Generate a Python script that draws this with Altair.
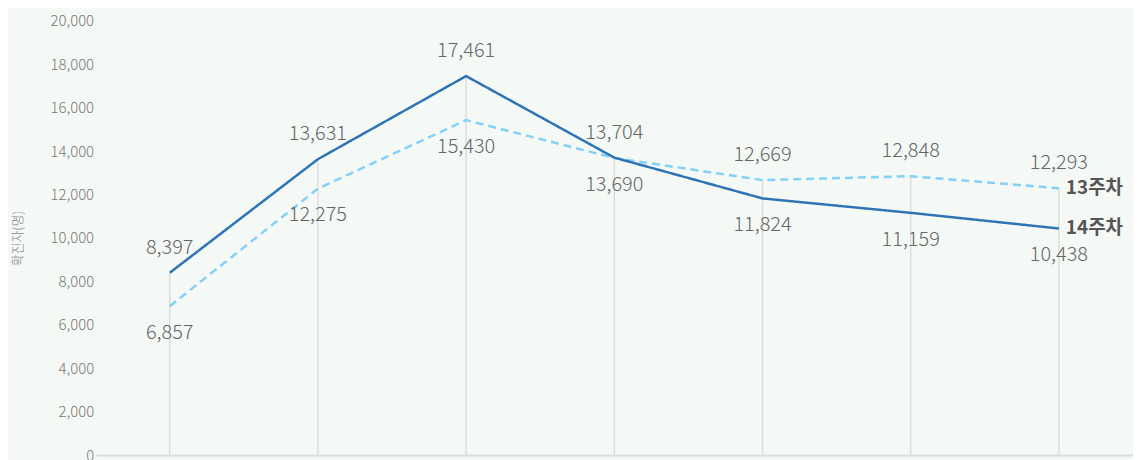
import altair as alt
import pandas as pd

days = ["월", "화", "수", "목", "금", "토", "일"]
series_names = ["13주차", "14주차"]
week13 = [6857, 12275, 15430, 13690, 12669, 12848, 12293]
week14 = [8397, 13631, 17461, 13704, 11824, 11159, 10438]
y_ticks = list(range(0, 20001, 2000))

rows = []
for i, d in enumerate(days):
    for name, vals, other in (("13주차", week13, week14), ("14주차", week14, week13)):
        rows.append({
            "day": d,
            "series": name,
            "value": vals[i],
            "pos": "above" if vals[i] >= other[i] else "below",
            "last": i == len(days) - 1,
        })
df = pd.DataFrame(rows)

FONT = "Noto Sans CJK KR"

x_enc = alt.X(
    "day:O",
    sort=days,
    scale=alt.Scale(type="point", padding=0.5),
    axis=alt.Axis(domain=True, domainColor="#dcdedc", domainWidth=2,
                  labels=False, ticks=False, grid=False, title=None),
)
y_scale = alt.Scale(domain=[0, 20000], nice=False)
y_axis = alt.Axis(
    values=y_ticks, format=",d", domain=False, ticks=False, grid=False,
    labelColor="#777777", labelFontSize=15, labelPadding=2, labelFont=FONT,
    labelFontWeight=300,
    title="확진자(명)", titleX=-78, titleY=218, titleBaseline="middle",
    titleFontSize=13, titleColor="#888888", titleFontWeight=300, titleFont=FONT,
)

base = alt.Chart(df)

rules = base.transform_aggregate(
    maxv="max(value)", groupby=["day"]
).mark_rule(color="#dcdedc", strokeWidth=1.5).encode(
    x=x_enc,
    y=alt.Y("maxv:Q", scale=y_scale, axis=y_axis),
    y2=alt.datum(0),
)

color_scale = alt.Scale(domain=series_names, range=["#85d0f8", "#2e74b5"])
dash_scale = alt.Scale(domain=series_names, range=[[8, 5], [1, 0]])

lines = base.mark_line(strokeWidth=2.5).encode(
    x=x_enc,
    y=alt.Y("value:Q", scale=y_scale, axis=y_axis),
    color=alt.Color("series:N", scale=color_scale, legend=None),
    strokeDash=alt.StrokeDash("series:N", scale=dash_scale, legend=None),
    detail="series:N",
)

labels_above = base.transform_filter(alt.datum.pos == "above").mark_text(
    dy=-25, fontSize=20, color="#666666", font=FONT, fontWeight=300, baseline="middle"
).encode(
    x=x_enc, y=alt.Y("value:Q", scale=y_scale),
    text=alt.Text("value:Q", format=",d"),
)

labels_below = base.transform_filter(alt.datum.pos == "below").mark_text(
    dy=27, fontSize=20, color="#666666", font=FONT, fontWeight=300, baseline="middle"
).encode(
    x=x_enc, y=alt.Y("value:Q", scale=y_scale),
    text=alt.Text("value:Q", format=",d"),
)

end_labels = base.transform_filter(alt.datum.last == True).mark_text(
    dx=7, align="left", baseline="middle", fontSize=19, fontWeight="bold",
    color="#555555", font=FONT,
).encode(
    x=x_enc, y=alt.Y("value:Q", scale=y_scale),
    text="series:N",
)

chart = alt.layer(rules, lines, labels_above, labels_below, end_labels).properties(
    width=1042, height=436,
    autosize=alt.AutoSizeParams(type="none"),
    padding={"top": 12, "left": 88, "right": 0, "bottom": 12},
    background="#f5f9f6",
).configure_view(stroke=None)

chart.save("out.html", embed_options={"renderer": "svg", "actions": False})
